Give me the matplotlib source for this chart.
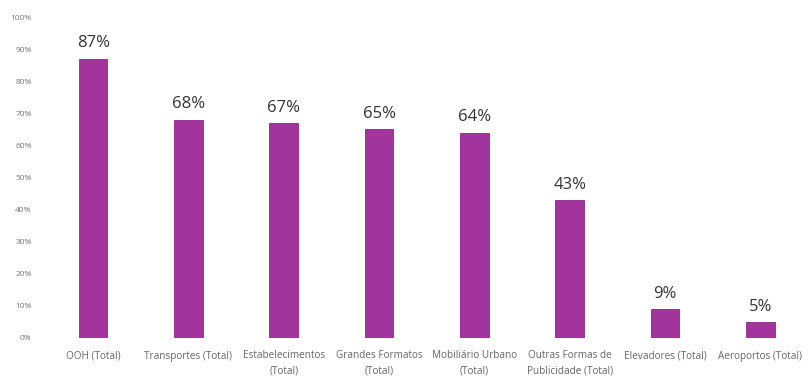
import matplotlib
matplotlib.use("Agg")
import matplotlib.pyplot as plt

categories = ["OOH (Total)", "Transportes (Total)", "Estabelecimentos\n(Total)",
              "Grandes Formatos\n(Total)", "Mobiliário Urbano\n(Total)",
              "Outras Formas de\nPublicidade (Total)", "Elevadores (Total)",
              "Aeroportos (Total)"]
values = [87, 68, 67, 65, 64, 43, 9, 5]
yticks = [0, 10, 20, 30, 40, 50, 60, 70, 80, 90, 100]

plt.rcParams['font.family'] = ['Open Sans', 'DejaVu Sans']

W, H = 811, 379
fig = plt.figure(figsize=(W / 100, H / 100), dpi=100)
ax = fig.add_axes([45.5 / W, 1 - 338 / H, (808 - 45.5) / W, (338 - 17) / H])

x = list(range(len(categories)))
ax.bar(x, values, width=0.3, color="#a3349e", edgecolor="#8c2688", linewidth=0.6)
for xi, v in zip(x, values):
    ax.text(xi, v + 2.3, f"{v}%", ha="center", va="bottom", fontsize=12,
            color="#333333")

ax.set_xlim(-0.5, len(categories) - 0.5)
ax.set_ylim(0, 100)
ax.set_yticks(yticks)
ax.set_yticklabels([f"{t}%" for t in yticks], fontsize=6, color="#777777")
ax.set_xticks(x)
ax.set_xticklabels(categories, fontsize=7.2, color="#666666", linespacing=1.45)
ax.tick_params(axis="both", length=0)
ax.tick_params(axis="y", pad=10)
ax.tick_params(axis="x", pad=9)
for s in ax.spines.values():
    s.set_visible(False)

fig.savefig("out.png", dpi=100)
